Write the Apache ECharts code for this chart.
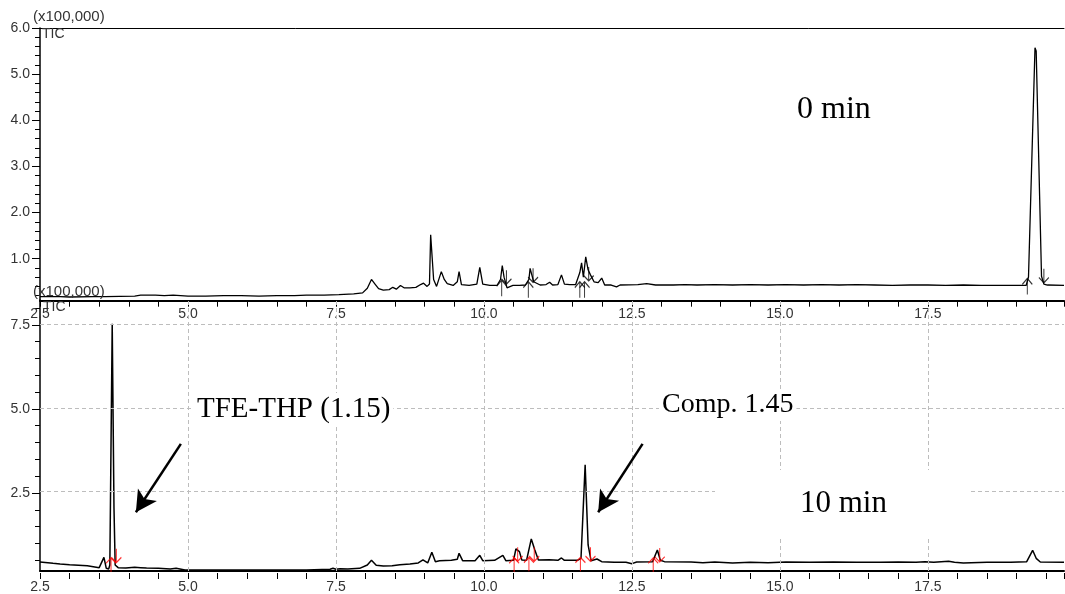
<!DOCTYPE html>
<html>
<head>
<meta charset="utf-8">
<script src="https://cdn.jsdelivr.net/npm/echarts@6/dist/echarts.min.js"></script>
<style>html,body{margin:0;padding:0;background:#fff}#c{width:1065px;height:594px}</style>
</head>
<body>
<div id="c"></div>
<script>
// ---------- DATA ----------
const xTickLabels = [2.5, 5.0, 7.5, 10.0, 12.5, 15.0, 17.5];
const xMinorStep = 0.5;
const topYLabels = {from: 1.0, to: 6.0, step: 1.0};
const topYMinor = {from: 0.2, to: 6.0, step: 0.2};
const bottomYLabels = {from: 2.5, to: 7.5, step: 2.5};
const bottomYMinor = {from: 0.5, to: 8.0, step: 0.5};
const bottomGridValues = [2.5, 5.0, 7.5];

// 0 min chromatogram (time min, intensity x100,000)
const topTrace = [[2.50,0.18],[2.84,0.18],[3.00,0.17],[3.40,0.18],[3.60,0.18],[4.10,0.19],[4.20,0.21],[4.45,0.21],[4.60,0.20],[4.75,0.21],[5.00,0.19],[5.30,0.19],[5.60,0.20],[5.90,0.20],[6.20,0.19],[6.50,0.20],[6.80,0.20],[7.00,0.21],[7.30,0.21],[7.55,0.22],[7.80,0.24],[7.95,0.26],[8.03,0.36],[8.10,0.55],[8.16,0.45],[8.22,0.35],[8.30,0.32],[8.40,0.33],[8.46,0.38],[8.52,0.34],[8.59,0.42],[8.65,0.37],[8.75,0.37],[8.85,0.38],[8.93,0.44],[8.98,0.47],[9.04,0.40],[9.08,0.45],[9.10,1.52],[9.13,1.52],[9.15,0.55],[9.20,0.40],[9.25,0.60],[9.28,0.72],[9.33,0.55],[9.38,0.46],[9.48,0.42],[9.55,0.50],[9.58,0.72],[9.62,0.44],[9.75,0.42],[9.88,0.45],[9.93,0.81],[9.98,0.45],[10.10,0.42],[10.22,0.42],[10.28,0.55],[10.31,0.85],[10.34,0.60],[10.39,0.37],[10.49,0.42],[10.60,0.42],[10.70,0.43],[10.76,0.55],[10.78,0.79],[10.80,0.75],[10.84,0.50],[10.95,0.43],[11.05,0.44],[11.11,0.49],[11.16,0.43],[11.25,0.44],[11.31,0.65],[11.36,0.45],[11.45,0.44],[11.55,0.44],[11.62,0.70],[11.65,0.91],[11.68,0.60],[11.72,1.04],[11.76,0.76],[11.80,0.65],[11.86,0.50],[11.93,0.48],[11.99,0.58],[12.04,0.43],[12.15,0.43],[12.24,0.39],[12.30,0.43],[12.60,0.44],[12.75,0.46],[12.90,0.43],[13.20,0.43],[13.40,0.44],[13.60,0.43],[13.90,0.44],[14.20,0.43],[14.50,0.44],[14.80,0.43],[15.10,0.44],[15.40,0.43],[15.70,0.44],[16.00,0.43],[16.30,0.44],[16.60,0.43],[16.90,0.42],[17.20,0.43],[17.50,0.43],[17.80,0.42],[18.10,0.43],[18.40,0.42],[18.70,0.42],[19.00,0.42],[19.16,0.42],[19.20,0.60],[19.31,5.57],[19.33,5.50],[19.42,0.62],[19.46,0.45],[19.52,0.43],[19.80,0.42]];

// 10 min chromatogram
const bottomTrace = [[2.50,0.39],[2.72,0.35],[2.84,0.33],[3.00,0.31],[3.30,0.28],[3.50,0.22],[3.53,0.24],[3.58,0.53],[3.62,0.20],[3.66,0.18],[3.68,0.30],[3.72,7.53],[3.75,2.00],[3.77,0.30],[3.82,0.22],[3.95,0.21],[4.10,0.23],[4.20,0.22],[4.30,0.21],[4.50,0.20],[4.70,0.18],[4.80,0.20],[4.95,0.15],[5.20,0.15],[6.00,0.15],[7.00,0.15],[7.40,0.17],[7.45,0.20],[7.50,0.17],[7.57,0.19],[7.70,0.18],[7.90,0.20],[8.03,0.30],[8.10,0.44],[8.18,0.29],[8.30,0.27],[8.45,0.28],[8.58,0.31],[8.75,0.33],[8.89,0.36],[8.97,0.45],[9.05,0.36],[9.12,0.68],[9.18,0.40],[9.25,0.43],[9.45,0.44],[9.55,0.47],[9.58,0.65],[9.64,0.43],[9.85,0.43],[9.93,0.59],[9.98,0.43],[10.18,0.44],[10.32,0.59],[10.37,0.43],[10.50,0.44],[10.54,0.78],[10.60,0.70],[10.64,0.45],[10.72,0.44],[10.80,1.08],[10.86,0.75],[10.92,0.45],[11.10,0.46],[11.25,0.44],[11.31,0.51],[11.36,0.44],[11.58,0.44],[11.64,0.50],[11.71,3.30],[11.76,0.90],[11.81,0.43],[11.91,0.48],[11.99,0.40],[12.20,0.38],[12.40,0.38],[12.50,0.34],[12.58,0.39],[12.85,0.40],[12.93,0.75],[12.98,0.44],[13.05,0.40],[13.50,0.39],[13.70,0.37],[13.90,0.39],[14.20,0.36],[14.50,0.38],[14.80,0.37],[15.10,0.39],[15.50,0.38],[15.90,0.39],[16.30,0.38],[16.70,0.38],[17.00,0.39],[17.30,0.38],[17.45,0.40],[17.60,0.38],[17.85,0.41],[17.95,0.38],[18.10,0.36],[18.50,0.38],[18.90,0.38],[19.17,0.40],[19.27,0.74],[19.33,0.50],[19.40,0.39],[19.80,0.38]];

// peak integration marks (start = up arrow, end = down arrow)
const topStartMarks = [[10.30,0.36],[10.75,0.33],[11.62,0.33],[11.70,0.33],[19.18,0.40]];
const topEndMarks = [[10.38,0.60],[10.83,0.64],[11.77,0.67],[19.46,0.63]];
const bottomStartMarks = [[3.70,0.30],[10.51,0.30],[10.76,0.32],[11.63,0.32],[12.86,0.30]];
const bottomEndMarks = [[3.79,0.58],[10.57,0.62],[10.85,0.62],[11.80,0.62],[12.97,0.60]];

// annotation arrows in the 10 min panel: [fromX, fromY, toX, toY]
const annotationArrows = [[4.88,3.93,4.12,1.88],[12.68,3.93,11.93,1.88]];

// ---------- CHART ----------
const chart = echarts.init(document.getElementById('c'), null, {renderer: 'canvas'});
const sans = '"Liberation Sans", Arial, sans-serif';
const serif = '"Liberation Serif", "Times New Roman", serif';
const upArrow = 'path://M5 16 L5 0 M0 6 L5 0 L10 6';
const downArrow = 'path://M5 0 L5 16 M0 10 L5 16 L10 10';

const X_MIN = 2.5, X_MAX = 19.8;
const PLOT_LEFT = 40;
const panels = {
  top: {top: 28, height: 272.7, min: 0.09, max: 6.0},
  bottom: {top: 300, height: 273, min: 0.12, max: 8.24}
};
// a narrow strip left of the y axis covering [lo, hi] of a panel; its split lines act as ticks
function yTickStrip(p, lo, hi, len) {
  const k = p.height / (p.max - p.min);
  return {left: PLOT_LEFT - len, width: len, top: p.top + (p.max - hi) * k, height: (hi - lo) * k};
}
// a strip under the x axis whose split lines act as ticks
function xTickStrip(p, len) {
  return {left: PLOT_LEFT, right: 1, top: p.top + p.height, height: len};
}
const grids = [
  {left: PLOT_LEFT, right: 1, top: panels.top.top, height: panels.top.height},          // 0
  {left: PLOT_LEFT, right: 1, top: panels.bottom.top, height: panels.bottom.height},    // 1
  yTickStrip(panels.top, topYMinor.from, topYMinor.to, 5),                               // 2
  yTickStrip(panels.top, topYLabels.from, topYLabels.to, 8),                             // 3
  yTickStrip(panels.bottom, bottomYMinor.from, bottomYMinor.to, 5),                      // 4
  yTickStrip(panels.bottom, bottomYLabels.from, bottomYLabels.to, 8),                    // 5
  xTickStrip(panels.top, 6),                                                             // 6
  xTickStrip(panels.bottom, 6)                                                           // 7
];

const tickLine = {show: true, lineStyle: {color: '#000', width: 1, type: 'solid'}};
function isLabelTick(v) { return xTickLabels.some(t => Math.abs(t - v) < 1e-6); }
function xAxisFor(grid, margin) {
  return {
    type: 'value', gridIndex: grid, position: 'bottom', min: X_MIN, max: X_MAX, interval: xMinorStep,
    axisLine: {show: true, lineStyle: {color: '#000', width: 2}},
    axisTick: {show: false},
    axisLabel: {show: true, margin: margin, color: '#333', fontSize: 14, fontFamily: sans,
      showMaxLabel: false, formatter: v => isLabelTick(v) ? Number(v).toFixed(1) : ''},
    splitLine: {show: false}
  };
}
function hiddenX(grid) {
  return {type: 'value', gridIndex: grid, min: X_MIN, max: X_MAX, show: false};
}
function tickX(grid) {
  return {type: 'value', gridIndex: grid, min: X_MIN, max: X_MAX, interval: xMinorStep,
    axisLine: {show: false}, axisTick: {show: false}, axisLabel: {show: false}, splitLine: tickLine};
}
function hiddenY(grid) {
  return {type: 'value', gridIndex: grid, min: 0, max: 1, show: false};
}
function seriesY(grid, p) {
  return {
    type: 'value', gridIndex: grid, position: 'left', min: p.min, max: p.max,
    axisLine: {show: true, lineStyle: {color: '#000', width: 1.5}},
    axisTick: {show: false}, axisLabel: {show: false}, splitLine: {show: false}
  };
}
function tickY(grid, spec, labels) {
  return {
    type: 'value', gridIndex: grid, position: 'left', min: spec.from, max: spec.to, interval: spec.step,
    axisLine: {show: false},
    axisTick: {show: false},
    axisLabel: {show: labels, margin: 2, color: '#333', fontSize: 14, fontFamily: sans,
      formatter: v => Number(v).toFixed(1)},
    splitLine: tickLine
  };
}

const gridLineStyle = {color: '#bdbdbd', width: 1, type: [4, 3]};
const markLineData = [];
bottomGridValues.forEach(v => markLineData.push({yAxis: v, lineStyle: gridLineStyle}));
xTickLabels.slice(1).forEach(v => markLineData.push({xAxis: v, lineStyle: gridLineStyle}));
annotationArrows.forEach(a => markLineData.push([
  {coord: [a[0], a[1]], symbol: 'none', lineStyle: {color: '#000', width: 2.5, type: 'solid'}},
  {coord: [a[2], a[3]], symbol: 'arrow', symbolSize: [17, 21]}
]));

function markSeries(xi, yi, data, sym, color, size) {
  return {
    type: 'scatter', xAxisIndex: xi, yAxisIndex: yi, data: data, symbol: sym, symbolSize: size,
    itemStyle: {color: 'rgba(0,0,0,0)', borderColor: color, borderWidth: 1.2}, z: 4, silent: true
  };
}

const option = {
  animation: false,
  backgroundColor: '#fff',
  grid: grids,
  xAxis: [
    xAxisFor(0, 6),
    xAxisFor(1, 9),
    hiddenX(2), hiddenX(3), hiddenX(4), hiddenX(5),
    tickX(6), tickX(7),
    {type: 'value', gridIndex: 0, position: 'top', min: X_MIN, max: X_MAX,
      axisLine: {show: true, lineStyle: {color: '#000', width: 1}}, axisTick: {show: false},
      axisLabel: {show: false}, splitLine: {show: false}}
  ],
  yAxis: [
    seriesY(0, panels.top),
    seriesY(1, panels.bottom),
    tickY(2, topYMinor, false),
    tickY(3, topYLabels, true),
    tickY(4, bottomYMinor, false),
    tickY(5, bottomYLabels, true),
    hiddenY(6), hiddenY(7)
  ],
  series: [
    {type: 'line', xAxisIndex: 0, yAxisIndex: 0, data: topTrace, symbol: 'none',
      lineStyle: {color: '#000', width: 1.3}, z: 3},
    markSeries(0, 0, topStartMarks, upArrow, '#000', [10, 16]),
    markSeries(0, 0, topEndMarks, downArrow, '#000', [10, 14]),
    {type: 'line', xAxisIndex: 1, yAxisIndex: 1, data: bottomTrace, symbol: 'none',
      lineStyle: {color: '#000', width: 1.5}, z: 3,
      markLine: {silent: true, symbol: 'none', label: {show: false}, animation: false, data: markLineData}},
    markSeries(1, 1, bottomStartMarks, upArrow, '#ff0000', [10, 14]),
    markSeries(1, 1, bottomEndMarks, downArrow, '#ff0000', [10, 14])
  ],
  graphic: [
    {type: 'text', left: 33, top: 9, z: 10, style: {text: '(x100,000)', font: '15px ' + sans, fill: '#333'}},
    {type: 'text', left: 42, top: 27, z: 10, style: {text: 'TIC', font: '14px ' + sans, fill: '#333'}},
    {type: 'text', left: 33, top: 284, z: 10, style: {text: '(x100,000)', font: '15px ' + sans, fill: '#333'}},
    {type: 'text', left: 43, top: 300, z: 10, style: {text: 'TIC', font: '14px ' + sans, fill: '#333'}},
    {type: 'text', left: 797, top: 94, z: 10, style: {text: '0 min', font: '32px ' + serif, fill: '#000'}},
    {type: 'rect', z: 9, shape: {x: 715, y: 470, width: 255, height: 66}, style: {fill: '#fff'}},
    {type: 'text', left: 800, top: 488, z: 10, style: {text: '10 min', font: '31px ' + serif, fill: '#000'}},
    {type: 'text', left: 194, top: 393, z: 10, style: {text: 'TFE-THP (1.15)', font: '29px ' + serif, fill: '#000',
      backgroundColor: '#fff', padding: [2, 3]}},
    {type: 'text', left: 659, top: 389, z: 10, style: {text: 'Comp. 1.45', font: '28px ' + serif, fill: '#000',
      backgroundColor: '#fff', padding: [2, 3]}}
  ]
};
chart.setOption(option);
</script>
</body>
</html>
